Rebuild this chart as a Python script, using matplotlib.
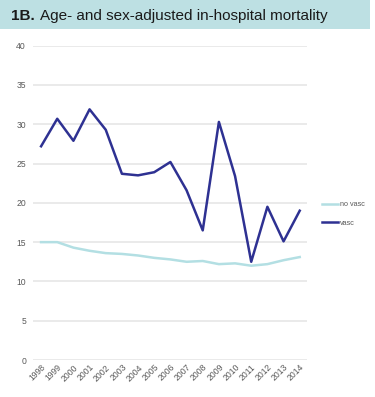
import matplotlib.pyplot as plt
from matplotlib.patches import Rectangle

years = ["1998", "1999", "2000", "2001", "2002", "2003", "2004", "2005", "2006",
         "2007", "2008", "2009", "2010", "2011", "2012", "2013", "2014"]
no_vasc = [15.0, 15.0, 14.3, 13.9, 13.6, 13.5, 13.3, 13.0, 12.8,
           12.5, 12.6, 12.2, 12.3, 12.0, 12.2, 12.7, 13.1]
vasc = [27.2, 30.7, 27.9, 31.9, 29.3, 23.7, 23.5, 23.9, 25.2,
        21.6, 16.5, 30.3, 23.4, 12.5, 19.5, 15.1, 19.0]
y_ticks = [0, 5, 10, 15, 20, 25, 30, 35, 40]

plt.rcParams['font.family'] = ['Liberation Sans', 'DejaVu Sans']

fig = plt.figure(figsize=(3.75, 3.97), dpi=100)

# title banner
fig.patches.append(Rectangle((0, 1 - 29 / 397), 370 / 375, 29 / 397,
                             transform=fig.transFigure, facecolor="#bde0e3",
                             edgecolor="none", zorder=0))
fig.text(11 / 375, 1 - 16 / 397, "1B.", fontsize=11, fontweight="bold",
         color="#1a1a1a", va="center", ha="left")
fig.text(40 / 375, 1 - 16 / 397, "Age- and sex-adjusted in-hospital mortality",
         fontsize=11, color="#1a1a1a", va="center", ha="left")

ax = fig.add_axes([33 / 375, 1 - 360 / 397, 274 / 375, (360 - 45.7) / 397])

x = range(len(years))
ax.plot(x, no_vasc, color="#b3dfe3", lw=1.8, label="no vasc")
ax.plot(x, vasc, color="#2e3192", lw=1.8, label="vasc")

ax.set_xlim(-0.5, 16.45)
ax.set_ylim(0, 40)
ax.set_yticks(y_ticks)
ax.set_xticks(list(x))
ax.set_xticklabels(years, rotation=45, ha="right", rotation_mode="anchor")
ax.yaxis.grid(True, color="#e6e6e6", lw=1.2)
ax.set_axisbelow(True)
for s in ax.spines.values():
    s.set_visible(False)
ax.tick_params(axis="both", length=0, labelsize=6.2, colors="#595959")
ax.tick_params(axis="y", pad=5)
ax.tick_params(axis="x", pad=2)

ax.legend(loc="center left", bbox_to_anchor=(1.03, 0.465), frameon=False,
          fontsize=5.2, handlelength=2.2, labelspacing=1.6, handletextpad=0.3,
          labelcolor="#595959")

fig.savefig("out.png", dpi=100)
